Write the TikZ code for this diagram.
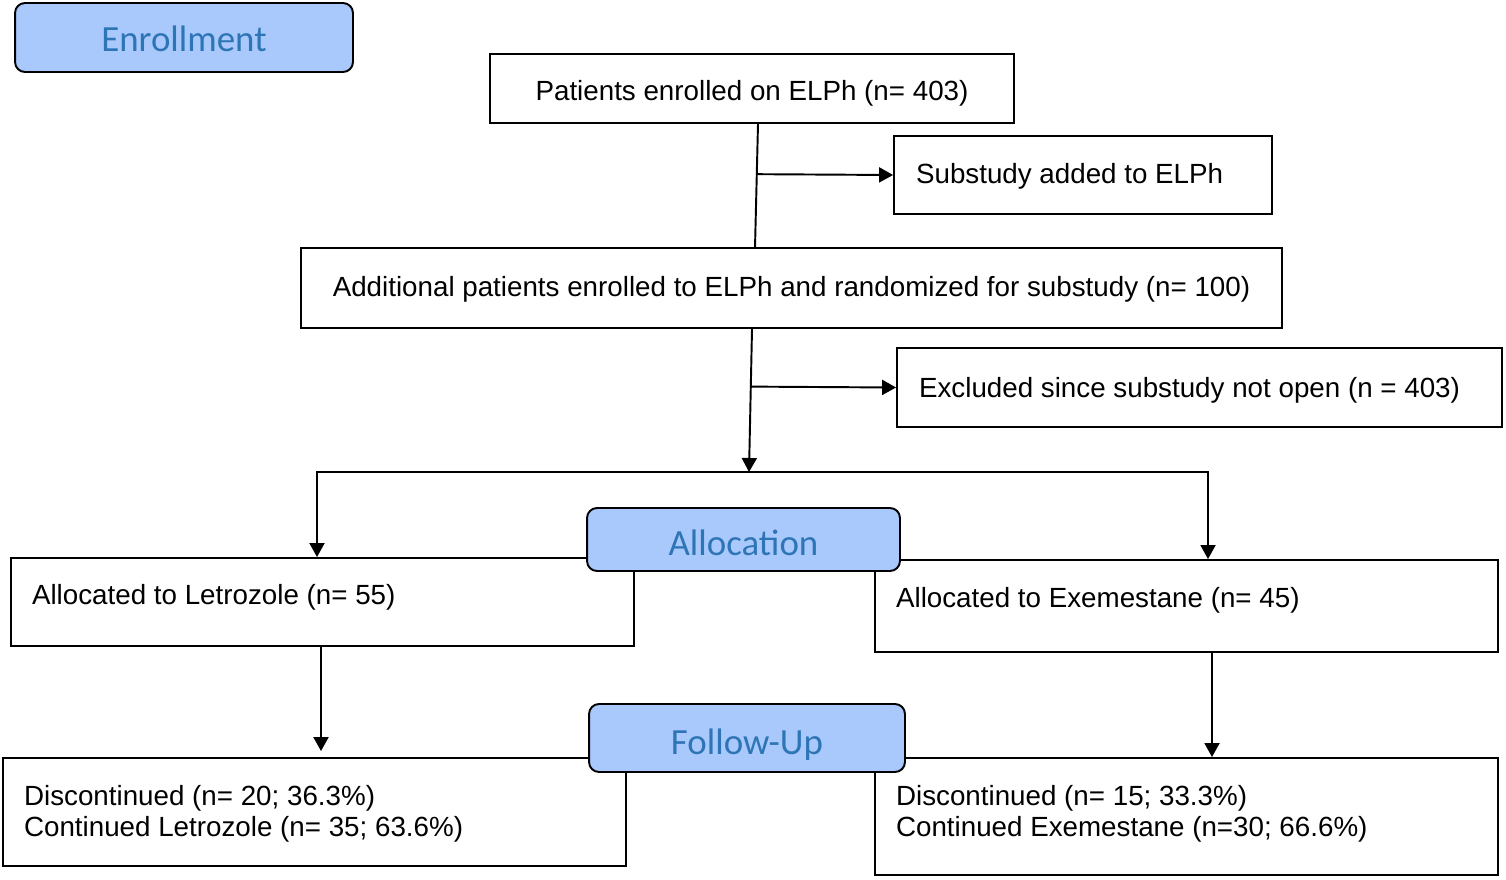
\documentclass[tikz,border=0pt]{standalone}
\usepackage{fontspec}
\setmainfont{Liberation Sans}
\newfontfamily\labfont{Carlito}
\usetikzlibrary{arrows.meta,calc}
\definecolor{labfill}{HTML}{A9C8FC}
\definecolor{labtext}{HTML}{2E75B6}
\newcommand\lefttext[2]{\parbox[t]{#1}{\raggedright #2}}
\begin{document}
\begin{tikzpicture}[x=0.02cm,y=-0.02cm,
  box/.style={draw=black, line width=1.1pt, rectangle, inner sep=0pt, text depth=0pt, font=\fontsize{15.8pt}{17.8pt}\selectfont},
  stage/.style={draw=black, line width=1.1pt, fill=labfill, rounded corners=0.2cm, inner sep=0pt, text depth=0pt, text=labtext, font=\labfont\fontsize{21pt}{24pt}\selectfont},
  conn/.style={line width=1.1pt},
  arr/.style={conn, -{Triangle[length=0.28cm,width=0.3cm]}}]
\useasboundingbox (0,0) rectangle (1506,879);

% Enrollment stage
\node[stage, minimum width=6.76cm, minimum height=1.38cm, text height=0.56cm] (enr) at (184,37.5) {Enrollment};

\node[box, minimum width=10.48cm, minimum height=1.38cm, text height=0.46cm] (pe) at (752,88.5) {Patients enrolled on ELPh (n= 403)};
\node[box, minimum width=7.56cm, minimum height=1.56cm, text height=0.32cm] (sub) at (1083,175) {\lefttext{6.68cm}{Substudy added to ELPh}};
\node[box, minimum width=19.62cm, minimum height=1.6cm, text height=0.32cm] (add) at (791.5,288) {Additional patients enrolled to ELPh and randomized for substudy (n= 100)};
\node[box, minimum width=12.1cm, minimum height=1.58cm, text height=0.38cm] (exc) at (1199.5,387.5) {\lefttext{11.22cm}{Excluded since substudy not open (n = 403)}};

% split point
\coordinate (split) at (749,472);

% Allocation boxes
\node[box, minimum width=12.46cm, minimum height=1.76cm, text height=0.08cm] (let) at (322.5,602) {\lefttext{11.62cm}{Allocated to Letrozole (n= 55)}};
\node[box, minimum width=12.46cm, minimum height=1.84cm, text height=0.04cm] (exm) at (1186.5,606) {\lefttext{11.62cm}{Allocated to Exemestane (n= 45)}};
\node[stage, minimum width=6.26cm, minimum height=1.26cm, text height=0.64cm] (alloc) at (743.5,539.5) {Allocation};

% Follow-up boxes
\node[box, minimum width=12.46cm, minimum height=2.16cm, text height=0pt, text depth=0.28cm] (dl) at (314.5,812) {\lefttext{11.62cm}{Discontinued (n= 20; 36.3\%)\\Continued Letrozole (n= 35; 63.6\%)}};
\node[box, minimum width=12.46cm, minimum height=2.34cm, text height=0pt, text depth=0.46cm] (dr) at (1186.5,816.5) {\lefttext{11.62cm}{Discontinued (n= 15; 33.3\%)\\Continued Exemestane (n=30; 66.6\%)}};
\node[stage, minimum width=6.32cm, minimum height=1.36cm, text height=0.64cm] (fu) at (747,738) {Follow-Up};

% connectors
\coordinate (p1) at ([xshift=0.12cm]pe.south);
\coordinate (p2) at ([xshift=-0.73cm]add.north);
\draw[conn] (p1) -- (p2);
\draw[arr] ($(p1)!0.408!(p2)$) -- (sub.west);

\coordinate (p3) at ([xshift=-0.79cm]add.south);
\draw[arr] (p3) -- (split);
\draw[arr] ($(p3)!0.403!(split)$) -- (exc.west);

\draw[arr] (split) -| ([xshift=-0.11cm]let.north);
\draw[arr] (split) -| ([xshift=0.43cm]exm.north);

\draw[arr] ([xshift=-0.03cm]let.south) -- ([xshift=0.13cm,yshift=0.12cm]dl.north);
\draw[arr] ([xshift=0.51cm]exm.south) -- ([xshift=0.51cm]dr.north);
\end{tikzpicture}
\end{document}
